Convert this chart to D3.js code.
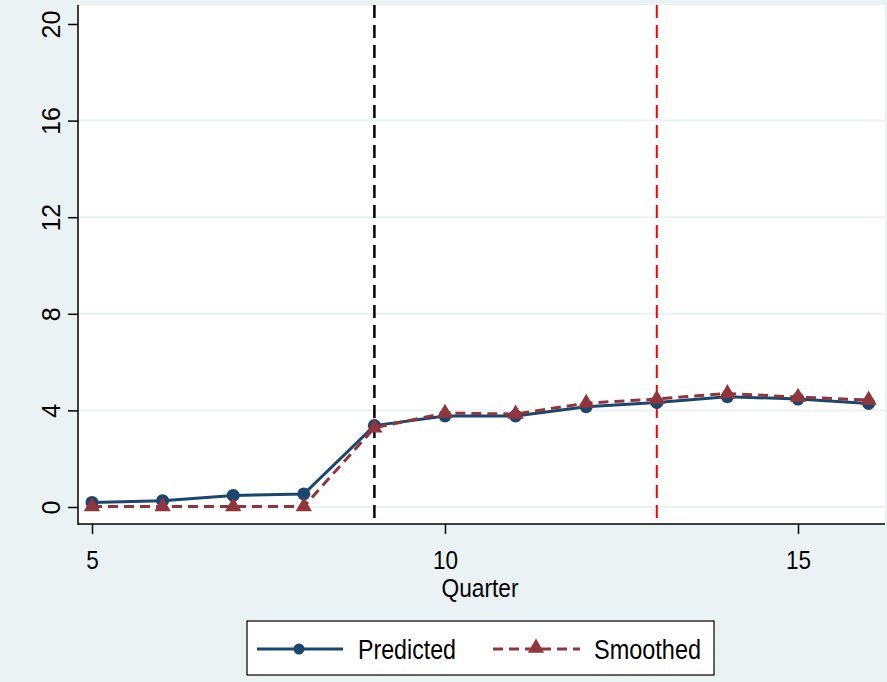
<!DOCTYPE html>
<html>
<head>
<meta charset="utf-8">
<script src="https://cdn.jsdelivr.net/npm/d3@7"></script>
<style>
  html, body { margin: 0; padding: 0; background: #EAF2F3; }
  svg { display: block; font-family: "Liberation Sans", Arial, Helvetica, sans-serif; }
</style>
</head>
<body>
<svg id="chart" width="887" height="682"></svg>
<script>
// Quarterly series
const quarters  = [5, 6, 7, 8, 9, 10, 11, 12, 13, 14, 15, 16];
const predicted = [0.19, 0.26, 0.48, 0.54, 3.37, 3.77, 3.77, 4.15, 4.33, 4.57, 4.47, 4.29];
const smoothed  = [0.02, 0.02, 0.02, 0.02, 3.28, 3.89, 3.85, 4.30, 4.47, 4.70, 4.55, 4.43];

const xTicks = [5, 10, 15];
const yTicks = [0, 4, 8, 12, 16, 20];
const gridTicks = [0, 4, 8, 12, 16];
const refLines = [{ q: 9, color: "#000000" }, { q: 13, color: "#FF0000" }];
const legendItems = ["Predicted", "Smoothed"];

const colPred = "#1A476F";
const colSmooth = "#90353B";

const svg = d3.select("#chart");
const W = 887, H = 682;

// plot region
const pLeft = 78, pRight = 885, pTop = 5, pBottom = 524;

const x = d3.scaleLinear().domain([5, 15]).range([92, 798]);
const y = d3.scaleLinear().domain([0, 20]).range([507, 24]);

svg.append("rect").attr("width", W).attr("height", H).attr("fill", "#EAF2F3");
svg.append("rect")
  .attr("x", pLeft).attr("y", pTop)
  .attr("width", pRight - pLeft).attr("height", pBottom - pTop)
  .attr("fill", "#ffffff");

// horizontal gridlines
svg.append("g").selectAll("line").data(gridTicks).join("line")
  .attr("x1", pLeft).attr("x2", pRight)
  .attr("y1", d => y(d)).attr("y2", d => y(d))
  .attr("stroke", "#EAF2F3").attr("stroke-width", 2);

// reference lines
svg.append("g").selectAll("line").data(refLines).join("line")
  .attr("x1", d => x(d.q)).attr("x2", d => x(d.q))
  .attr("y1", pTop).attr("y2", pBottom)
  .attr("stroke", d => d.color)
  .attr("stroke-width", d => d.q === 9 ? 2.5 : 2)
  .attr("stroke-dasharray", "13,7");

// axes
const yAxis = d3.axisLeft(y).tickValues(yTicks).tickSize(10).tickFormat(d3.format("d"));
const gy = svg.append("g").attr("transform", `translate(${pLeft},0)`).call(yAxis);
gy.select(".domain").remove();
gy.selectAll(".tick line").attr("stroke", "#000").attr("stroke-width", 1.5);
gy.selectAll(".tick text")
  .attr("x", null).attr("dy", null)
  .attr("transform", "translate(-18,0) rotate(-90)")
  .attr("text-anchor", "middle")
  .attr("font-size", 25).attr("fill", "#000");

const xAxis = d3.axisBottom(x).tickValues(xTicks).tickSize(10).tickFormat(d3.format("d"));
const gx = svg.append("g").attr("transform", `translate(0,${pBottom})`).call(xAxis);
gx.select(".domain").remove();
gx.selectAll(".tick line").attr("stroke", "#000").attr("stroke-width", 1.5);
gx.selectAll(".tick text")
  .attr("y", 45).attr("dy", null)
  .attr("font-size", 26).attr("fill", "#000")
  .attr("textLength", d => String(d).length * 12.5)
  .attr("lengthAdjust", "spacingAndGlyphs");

svg.append("line").attr("x1", pLeft).attr("x2", pLeft).attr("y1", pTop).attr("y2", pBottom + 0.75)
  .attr("stroke", "#000").attr("stroke-width", 1.5);
svg.append("line").attr("x1", pLeft).attr("x2", pRight).attr("y1", pBottom).attr("y2", pBottom)
  .attr("stroke", "#000").attr("stroke-width", 1.5);

svg.append("text")
  .attr("x", 480).attr("y", 597)
  .attr("text-anchor", "middle")
  .attr("font-size", 25)
  .attr("textLength", 77).attr("lengthAdjust", "spacingAndGlyphs")
  .text("Quarter");

// series
const predData = quarters.map((q, i) => [q, predicted[i]]);
const smoothData = quarters.map((q, i) => [q, smoothed[i]]);
const line = d3.line().x(d => x(d[0])).y(d => y(d[1]));

svg.append("path").datum(predData)
  .attr("d", line).attr("fill", "none")
  .attr("stroke", colPred).attr("stroke-width", 3);
svg.append("g").selectAll("circle").data(predData).join("circle")
  .attr("cx", d => x(d[0])).attr("cy", d => y(d[1])).attr("r", 6.5)
  .attr("fill", colPred);

svg.append("path").datum(smoothData)
  .attr("d", line).attr("fill", "none")
  .attr("stroke", colSmooth).attr("stroke-width", 3)
  .attr("stroke-dasharray", "10,6");
const tri = d3.symbol().type(d3.symbolTriangle).size(115);
svg.append("g").selectAll("path").data(smoothData).join("path")
  .attr("transform", d => `translate(${x(d[0])},${y(d[1])})`)
  .attr("d", tri).attr("fill", colSmooth);

// legend
const lg = svg.append("g");
lg.append("rect").attr("x", 247).attr("y", 621).attr("width", 467).attr("height", 54)
  .attr("fill", "#fff").attr("stroke", "#000").attr("stroke-width", 1.2);
const ly = 649;
lg.append("line").attr("x1", 257).attr("x2", 343).attr("y1", ly).attr("y2", ly)
  .attr("stroke", colPred).attr("stroke-width", 3);
lg.append("circle").attr("cx", 299).attr("cy", ly).attr("r", 5.5).attr("fill", colPred);
lg.append("text").attr("x", 358).attr("y", 659).attr("font-size", 27)
  .attr("textLength", 98).attr("lengthAdjust", "spacingAndGlyphs")
  .text(legendItems[0]);
lg.append("line").attr("x1", 493).attr("x2", 580).attr("y1", ly).attr("y2", ly)
  .attr("stroke", colSmooth).attr("stroke-width", 3).attr("stroke-dasharray", "10,6");
lg.append("path").attr("transform", `translate(536,${ly - 1})`).attr("d", tri).attr("fill", colSmooth);
lg.append("text").attr("x", 594).attr("y", 659).attr("font-size", 27)
  .attr("textLength", 107).attr("lengthAdjust", "spacingAndGlyphs")
  .text(legendItems[1]);
</script>
</body>
</html>
